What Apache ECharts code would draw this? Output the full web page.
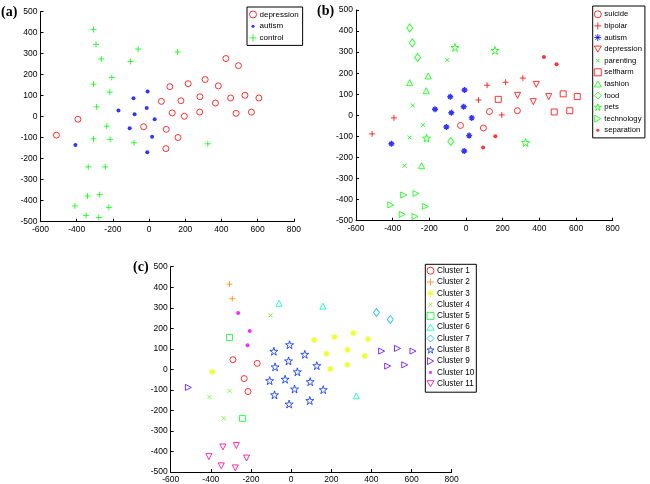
<!DOCTYPE html>
<html>
<head>
<meta charset="UTF-8">
<title>t-SNE topics and clusters</title>
<script src="https://cdn.jsdelivr.net/npm/echarts@6/dist/echarts.min.js"></script>
<style>
    html, body { margin: 0; padding: 0; background: #fff; }
    #container { width: 650px; height: 484px; }
</style>
</head>
<body>
<div id="container"></div>
<script>
    // the same 57 points are labelled three ways: (a) group, (b) topic, (c) cluster
    var groupNames = ['depression', 'autism', 'control'];
    var topicNames = ['suicide', 'bipolar', 'autism', 'depression', 'parenting', 'selfharm',
        'fashion', 'food', 'pets', 'technology', 'separation'];
    var topicGroup = [0, 0, 1, 0, 2, 0, 2, 2, 2, 2, 0];
    var clusterNames = ['Cluster 1', 'Cluster 2', 'Cluster 3', 'Cluster 4', 'Cluster 5', 'Cluster 6',
        'Cluster 7', 'Cluster 8', 'Cluster 9', 'Cluster 10', 'Cluster 11'];

    var pts = [
        [-30, -48], [95, -60], [128, 18], [280, 22],
        [-512, -88], [-393, -12], [68, 73], [115, 143], [195, 2], [216, 157], [310, 177],
        [-407, -135], [-169, 29], [-107, -55], [-86, 88], [-80, 12], [-13, 41], [-8, 120], [-10, -169], [17, -96], [31, -12],
        [281, 95], [383, 147], [367, 65], [451, 89],
        [-102, 263], [-290, 47], [-234, -45], [-307, -105], [-336, -239],
        [176, 76], [481, 16], [530, 102], [566, 22], [607, 89],
        [-307, 155], [-206, 187], [-217, 117], [-242, -239],
        [-307, 415], [-293, 344], [-264, 275], [-83, -124],
        [-60, 322], [158, 308], [-215, -108], [325, -129],
        [-340, -378], [-273, -371], [-410, -425], [-222, -432], [-348, -470], [-278, -480],
        [425, 277], [494, 243], [93, -152], [160, -99]
    ];
    var topicOf = [
        0, 0, 0, 0,
        1, 1, 1, 1, 1, 1, 1,
        2, 2, 2, 2, 2, 2, 2, 2, 2, 2,
        3, 3, 3, 3,
        4, 4, 4, 4, 4,
        5, 5, 5, 5, 5,
        6, 6, 6, 6,
        7, 7, 7, 7,
        8, 8, 8, 8,
        9, 9, 9, 9, 9, 9,
        10, 10, 10, 10
    ];
    var clusterOf = [
        8, 8, 8, 3,
        9, 3, 8, 3, 3, 3, 3,
        4, 1, 8, 8, 8, 8, 8, 8, 8, 8,
        3, 3, 3, 9,
        4, 1, 1, 4, 4,
        3, 9, 9, 9, 9,
        5, 10, 10, 5,
        2, 2, 10, 8,
        6, 6, 1, 6,
        11, 11, 11, 11, 11, 11,
        7, 7, 8, 8
    ];

    // marker shapes, matlab style
    var starPath = (function () {
        var s = 'path://';
        for (var k = 0; k < 10; k++) {
            var r = k % 2 ? 1.91 : 5;
            var a = (-90 + 36 * k) * Math.PI / 180;
            s += (k ? 'L' : 'M') + (5 + r * Math.cos(a)).toFixed(2) + ',' + (5 + r * Math.sin(a)).toFixed(2);
        }
        return s + 'Z';
    })();
    var MK = {
        o:    { symbol: 'circle', size: 6 },
        plus: { symbol: 'path://M0,5L10,5M5,0L5,10', size: 6 },
        dot:  { symbol: 'circle', size: 4, filled: true },
        ast:  { symbol: 'path://M0,5L10,5M5,0L5,10M1.6,1.6L8.4,8.4M1.6,8.4L8.4,1.6', size: 6, lw: 1.4 },
        v:    { symbol: 'path://M0,0L10,0L5,8.66Z', size: 6 },
        x:    { symbol: 'path://M0,0L10,10M0,10L10,0', size: 4 },
        s:    { symbol: 'rect', size: 6 },
        up:   { symbol: 'path://M5,0L10,8.66L0,8.66Z', size: 6 },
        d:    { symbol: 'diamond', size: [6, 8] },
        p:    { symbol: starPath, size: 8 },
        right:{ symbol: 'path://M0,0L8.66,5L0,10Z', size: 6 }
    };
    // small dot / cross inside a 10x10 box, so the legend icon stays small
    var DOT_ICON = 'path://M0,0M10,10M7.2,5A2.2,2.2 0 1 1 2.8,5A2.2,2.2 0 1 1 7.2,5Z';
    var X_ICON = 'path://M0,0M10,10M2.5,2.5L7.5,7.5M2.5,7.5L7.5,2.5';

    var RED = '#ff0000', GREEN = '#00ff00', BLUE = '#0000ff';
    var groupStyle = [['o', RED], ['dot', BLUE], ['plus', GREEN]];
    var topicStyle = [['o', RED], ['plus', RED], ['ast', BLUE], ['v', RED], ['x', GREEN], ['s', RED],
        ['up', GREEN], ['d', GREEN], ['p', GREEN], ['right', GREEN], ['dot', RED]];
    var clusterStyle = [['o', '#ff0000'], ['plus', '#ff8b00'], ['ast', '#e8ff00'], ['x', '#5dff00'],
        ['s', '#00ff2e'], ['up', '#00ffb9'], ['d', '#00b9ff'], ['p', '#002eff'], ['right', '#5d00ff'],
        ['dot', '#e800ff'], ['v', '#ff008b']];

    function makeSeries(name, data, style, gi) {
        var m = MK[style[0]];
        var itemStyle = m.filled
            ? { color: style[1], borderWidth: 0 }
            : { color: 'rgba(0,0,0,0)', borderColor: style[1], borderWidth: m.lw || 1 };
        return {
            name: name, type: 'scatter', xAxisIndex: gi, yAxisIndex: gi,
            data: data, symbol: m.symbol, symbolSize: m.size,
            itemStyle: itemStyle, silent: true, emphasis: { disabled: true }
        };
    }

    var series = [];
    groupNames.forEach(function (g, gi) {
        var d = pts.filter(function (p, i) { return topicGroup[topicOf[i]] === gi; });
        series.push(makeSeries(g, d, groupStyle[gi], 0));
    });
    // trailing space keeps (b) names apart from (a) names
    topicNames.forEach(function (t, ti) {
        var d = pts.filter(function (p, i) { return topicOf[i] === ti; });
        series.push(makeSeries(t + ' ', d, topicStyle[ti], 1));
    });
    clusterNames.forEach(function (c, ci) {
        var d = pts.filter(function (p, i) { return clusterOf[i] === ci + 1; });
        series.push(makeSeries(c, d, clusterStyle[ci], 2));
    });

    var FONT = 'Liberation Sans';
    function xAx(gi) {
        return {
            type: 'value', gridIndex: gi, min: -600, max: 800, interval: 200,
            axisLine: { show: true, onZero: false, lineStyle: { color: '#000', width: 1 } },
            axisTick: { show: true, inside: true, length: 3, lineStyle: { color: '#000' } },
            axisLabel: { color: '#000', fontSize: 8.5, fontFamily: FONT, margin: 3 },
            splitLine: { show: false }
        };
    }
    function yAx(gi) {
        return {
            type: 'value', gridIndex: gi, min: -500, max: 500, interval: 100,
            axisLine: { show: true, onZero: false, lineStyle: { color: '#000', width: 1 } },
            axisTick: { show: true, inside: true, length: 3, lineStyle: { color: '#000' } },
            axisLabel: { color: '#000', fontSize: 8.5, fontFamily: FONT, margin: 3 },
            splitLine: { show: false }
        };
    }
    // legend entries: dots and crosses get a smaller icon
    function legendData(names, styles, suffix) {
        return names.map(function (n, i) {
            var k = styles[i][0];
            var item = { name: n + (suffix || '') };
            if (k === 'dot') item.icon = DOT_ICON;
            if (k === 'x') item.icon = X_ICON;
            return item;
        });
    }
    function legend(data, left, top, size, gap, pad, fmt) {
        return {
            orient: 'vertical', left: left, top: top, data: data,
            padding: pad, itemGap: gap, itemWidth: 7, itemHeight: 7,
            borderColor: '#000', borderWidth: 1, backgroundColor: '#fff',
            selectedMode: false, formatter: fmt,
            itemStyle: { borderWidth: 1 },
            textStyle: { fontSize: size, fontFamily: FONT, color: '#000', padding: [0, 0, 0, -2] }
        };
    }
    function panelLabel(txt, x, y) {
        return {
            type: 'text', left: x, top: y,
            style: { text: txt, fontFamily: 'Liberation Serif', fontWeight: 'bold', fontSize: 14, fill: '#000' }
        };
    }

    var myChart = echarts.init(document.getElementById('container'));
    myChart.setOption({
        animation: false,
        backgroundColor: '#fff',
        grid: [
            { left: 40.5, top: 11.7, width: 253.3, height: 210 },
            { left: 356, top: 10, width: 256.7, height: 210.7 },
            { left: 170.7, top: 266.7, width: 281, height: 207.3 }
        ],
        xAxis: [xAx(0), xAx(1), xAx(2)],
        yAxis: [yAx(0), yAx(1), yAx(2)],
        legend: [
            legend(legendData(groupNames, groupStyle), 247, 7, 8, 3.7, [3.5, 4, 3.5, 2]),
            legend(legendData(topicNames, topicStyle, ' '), 592.7, 6, 7.7, 3.6, [4.3, 3, 3.6, 1.1],
                function (n) { return n.trim(); }),
            legend(legendData(clusterNames, clusterStyle), 425.3, 264.3, 8.2, 3.3, [2.4, 2, 4.5, 1.2])
        ],
        graphic: [
            panelLabel('(a)', 1, 5),
            panelLabel('(b)', 317, 4),
            panelLabel('(c)', 133, 260)
        ],
        series: series
    });
</script>
</body>
</html>
